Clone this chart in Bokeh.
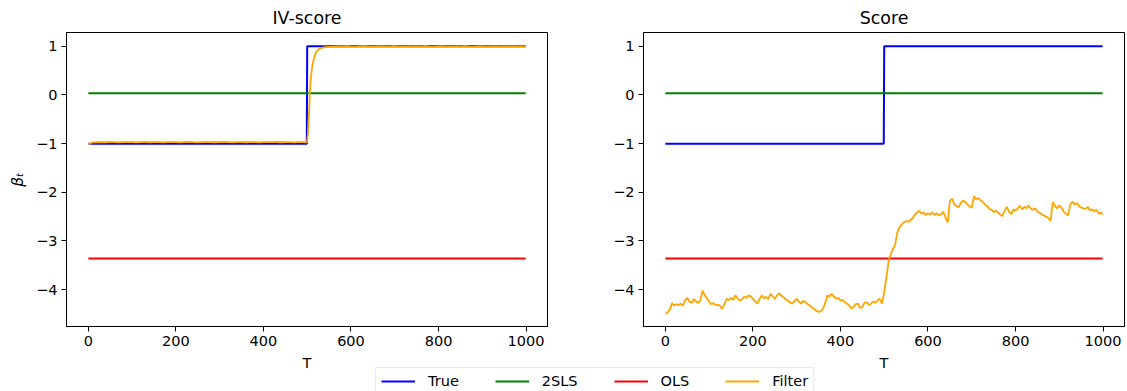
from bokeh.plotting import figure
from bokeh.layouts import row, column
from bokeh.models import Range1d, FixedTicker, CustomJSTickFormatter, Legend, LegendItem
from bokeh.embed import file_html
from bokeh.resources import INLINE

# ---- data -------------------------------------------------------------
# true coefficient path (break at T = 500)
true_t = [0, 499, 500, 999]
true_beta = [-1.0, -1.0, 1.0, 1.0]

# constant estimates
const_t = [0, 999]
tsls_beta = [0.035, 0.035]
ols_beta = [-3.36, -3.36]

# IV-score filter path
iv_t = ([0, 5, 10] + list(range(20, 500, 10)) + [499]
        + [500, 502, 504, 506, 508, 510, 512, 515, 518, 521, 525, 530, 535, 540, 550]
        + list(range(560, 1000, 10)) + [999])
iv_beta = [
    -1.020, -0.990, -0.975, -0.972, -0.968, -0.974, -0.966, -0.970, -0.973, -0.967,
    -0.971, -0.969, -0.975, -0.970, -0.966, -0.972, -0.968, -0.971, -0.974, -0.967,
    -0.970, -0.968, -0.973, -0.969, -0.966, -0.971, -0.974, -0.968, -0.970, -0.967,
    -0.972, -0.969, -0.965, -0.971, -0.974, -0.968, -0.970, -0.972, -0.967, -0.969,
    -0.973, -0.970, -0.968, -0.971, -0.966, -0.972, -0.969, -0.970, -0.974, -0.968,
    -0.971, -0.975,
    -0.95, -0.75, -0.38, 0.05, 0.32, 0.48, 0.62, 0.74, 0.83, 0.89, 0.93, 0.96, 0.975, 0.985, 0.99,
    0.993, 0.998, 0.994, 1.002, 0.996, 0.991, 0.999, 1.003, 0.995, 0.992,
    0.998, 1.001, 0.994, 0.997, 1.004, 0.993, 0.996, 1.000, 0.992, 0.998,
    0.995, 1.002, 0.994, 0.990, 0.997, 1.001, 0.995, 0.993, 0.999, 0.996,
    1.003, 0.994, 0.991, 0.997, 1.000, 0.995, 0.992, 0.998, 0.996, 1.001,
    0.994, 0.997, 0.993, 0.999,
    0.996,
]

# Score filter path
score_t = list(range(0, 1000, 5)) + [999]
score_beta = [
    -4.50, -4.47, -4.42, -4.28, -4.33, -4.30, -4.32, -4.29, -4.33, -4.22,
    -4.17, -4.25, -4.27, -4.20, -4.24, -4.28, -4.22, -4.02, -4.12, -4.18,
    -4.25, -4.30, -4.28, -4.32, -4.31, -4.34, -4.40, -4.30, -4.19, -4.22,
    -4.17, -4.21, -4.12, -4.18, -4.23, -4.20, -4.15, -4.17, -4.12, -4.14,
    -4.19, -4.24, -4.29, -4.20, -4.12, -4.18, -4.15, -4.20, -4.09, -4.14,
    -4.19, -4.12, -4.08, -4.13, -4.16, -4.20, -4.23, -4.27, -4.29, -4.24,
    -4.19, -4.25, -4.29, -4.23, -4.26, -4.30, -4.33, -4.37, -4.40, -4.44,
    -4.46, -4.45, -4.40, -4.28, -4.12, -4.15, -4.09, -4.14, -4.19, -4.17,
    -4.23, -4.21, -4.26, -4.29, -4.33, -4.39, -4.36, -4.30, -4.29, -4.38,
    -4.36, -4.27, -4.26, -4.32, -4.29, -4.25, -4.27, -4.22, -4.19, -4.29,
    -4.05, -3.75, -3.42, -3.27, -3.17, -3.07, -2.82, -2.72, -2.66, -2.62,
    -2.59, -2.61, -2.57, -2.53, -2.46, -2.42, -2.38, -2.44, -2.42, -2.47,
    -2.43, -2.46, -2.41, -2.47, -2.43, -2.48, -2.45, -2.40, -2.52, -2.62,
    -2.18, -2.13, -2.25, -2.28, -2.31, -2.22, -2.17, -2.20, -2.25, -2.29,
    -2.32, -2.08, -2.15, -2.12, -2.16, -2.20, -2.25, -2.28, -2.34, -2.36,
    -2.41, -2.38, -2.42, -2.46, -2.49, -2.38, -2.30, -2.40, -2.45, -2.35,
    -2.38, -2.33, -2.28, -2.35, -2.30, -2.33, -2.27, -2.34, -2.36, -2.33,
    -2.40, -2.42, -2.45, -2.48, -2.50, -2.53, -2.59, -2.20, -2.28, -2.33,
    -2.27, -2.32, -2.40, -2.44, -2.48, -2.25, -2.19, -2.25, -2.22, -2.28,
    -2.31, -2.33, -2.34, -2.30, -2.37, -2.35, -2.39, -2.36, -2.44, -2.42,
    -2.46,
]

x_ticks = [0, 200, 400, 600, 800, 1000]
y_ticks = [-4, -3, -2, -1, 0, 1]
series_names = ["True", "2SLS", "OLS", "Filter"]
series_colors = ["blue", "green", "red", "orange"]

# ---- styling ----------------------------------------------------------
FONT = "DejaVu Sans"
TICK_SIZE = "14.5px"
TITLE_SIZE = "17.4px"


def make_panel(title, filt_t, filt_beta, ylabel, border_left, border_right):
    p = figure(
        frame_width=481, frame_height=294,
        x_range=Range1d(-49.95, 1048.95), y_range=Range1d(-4.76, 1.285),
        toolbar_location=None, output_backend="svg",
        min_border_left=border_left, min_border_right=border_right,
        min_border_top=32, min_border_bottom=45,
        title=title,
    )
    p.grid.visible = False
    p.outline_line_color = "black"
    p.outline_line_width = 1
    p.background_fill_color = "white"
    p.border_fill_color = "white"

    p.title.align = "center"
    p.title.text_font = FONT
    p.title.text_font_size = TITLE_SIZE
    p.title.text_font_style = "normal"
    p.title.text_color = "black"

    for ax in (p.xaxis[0], p.yaxis[0]):
        ax.axis_line_color = "black"
        ax.major_tick_line_color = "black"
        ax.major_tick_out = 5
        ax.major_tick_in = 0
        ax.minor_tick_line_color = None
        ax.major_label_text_font = FONT
        ax.major_label_text_font_size = TICK_SIZE
        ax.major_label_text_color = "black"
        ax.major_label_standoff = 4
        ax.axis_label_text_font = FONT
        ax.axis_label_text_font_size = TICK_SIZE
        ax.axis_label_text_font_style = "normal"
        ax.axis_label_text_color = "black"

    p.xaxis.ticker = FixedTicker(ticks=x_ticks)
    p.yaxis.ticker = FixedTicker(ticks=y_ticks)
    p.yaxis.formatter = CustomJSTickFormatter(
        code="return String(tick).replace('-', '\u2212');")
    p.xaxis.axis_label = "T"
    p.xaxis.axis_label_standoff = 6
    if ylabel:
        p.yaxis.axis_label = ylabel
        p.yaxis.axis_label_text_font_style = "italic"
        p.yaxis.axis_label_text_font_size = "15.5px"
        p.yaxis.axis_label_standoff = 6

    p.line(true_t, true_beta, color=series_colors[0], line_width=2)
    p.line(const_t, tsls_beta, color=series_colors[1], line_width=2)
    p.line(const_t, ols_beta, color=series_colors[2], line_width=2)
    p.line(filt_t, filt_beta, color=series_colors[3], line_width=1.8)
    return p


p1 = make_panel("IV-score", iv_t, iv_beta, "\u03b2\u209c", 66, 10)
p2 = make_panel("Score", score_t, score_beta, None, 86, 2)

# shared legend strip below both panels; its ranges keep the series out of view,
# so only the legend swatches show
leg = figure(
    width=1127, height=29, x_range=(0, 1), y_range=(10, 11),
    toolbar_location=None, output_backend="svg", min_border=0,
    outline_line_color=None, margin=(-9, 0, 0, 0),
)
leg.axis.visible = False
leg.grid.visible = False
leg.background_fill_alpha = 0
leg.border_fill_alpha = 0
handles = [
    leg.line(true_t, true_beta, color=series_colors[0], line_width=2),
    leg.line(const_t, tsls_beta, color=series_colors[1], line_width=2),
    leg.line(const_t, ols_beta, color=series_colors[2], line_width=2),
    leg.line(score_t, score_beta, color=series_colors[3], line_width=2),
]
legend = Legend(
    items=[LegendItem(label=n, renderers=[r]) for n, r in zip(series_names, handles)],
    orientation="horizontal", location=(375, -2),
    padding=5, spacing=36, margin=0,
    glyph_width=34, glyph_height=16, label_height=16, label_standoff=13,
    label_text_font=FONT, label_text_font_size=TICK_SIZE, label_text_color="black",
    border_line_color="#d5d5d5", border_line_width=1,
    background_fill_color="white", background_fill_alpha=1,
)
leg.add_layout(legend)

layout = column(row(p1, p2), leg)

with open("out.html", "w") as f:
    f.write(file_html(layout, INLINE))
